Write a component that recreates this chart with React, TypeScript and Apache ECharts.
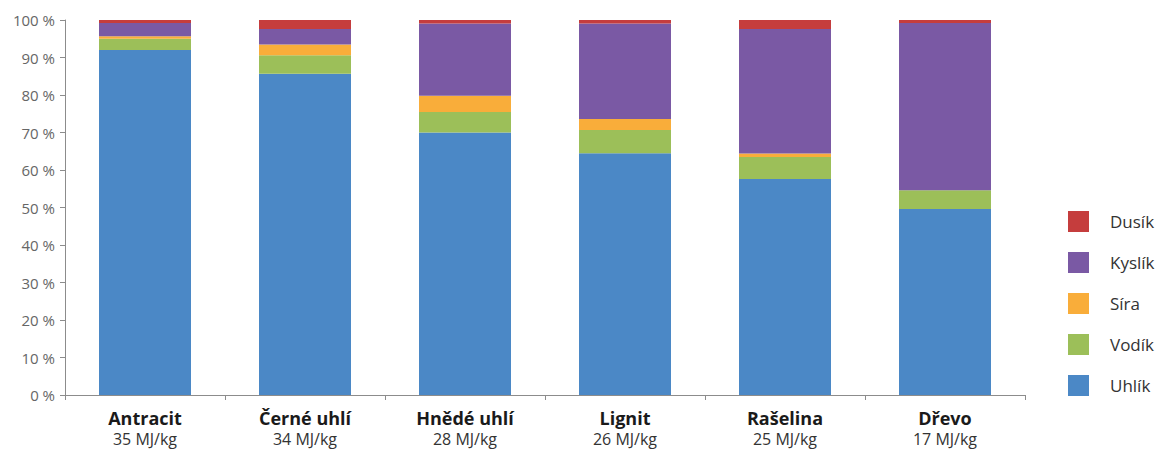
import React, { useEffect, useRef } from "react";
import * as echarts from "echarts";

const categories = ["Antracit", "Černé uhlí", "Hnědé uhlí", "Lignit", "Rašelina", "Dřevo"];
const energies = ["35 MJ/kg", "34 MJ/kg", "28 MJ/kg", "26 MJ/kg", "25 MJ/kg", "17 MJ/kg"];

const uhlik = [92, 85.7, 70, 64.5, 57.6, 49.6];
const vodik = [3, 4.9, 5.5, 6.2, 5.9, 5];
const sira = [0.7, 2.9, 4.3, 2.9, 0.9, 0];
const kyslik = [3.5, 4.1, 19.3, 25.5, 33.2, 44.6];
const dusik = [0.8, 2.4, 0.9, 0.9, 2.4, 0.8];

const yTicks = [0, 10, 20, 30, 40, 50, 60, 70, 80, 90, 100];

const seriesDefs = [
  { name: "Uhlík", data: uhlik, color: "#4B88C6" },
  { name: "Vodík", data: vodik, color: "#9CBF59" },
  { name: "Síra", data: sira, color: "#F9AD3A" },
  { name: "Kyslík", data: kyslik, color: "#7A59A4" },
  { name: "Dusík", data: dusik, color: "#C53D3D" },
];

const FONT = "'Open Sans', 'Noto Sans', sans-serif";

export default function App() {
  const ref = useRef<HTMLDivElement>(null);
  useEffect(() => {
    document.body.style.margin = "0";
    if (!ref.current) return;
    const chart = echarts.init(ref.current, undefined, { renderer: "svg" });
    chart.setOption({
      animation: false,
      backgroundColor: "#ffffff",
      grid: { left: 65, right: 141, top: 20, bottom: 54, containLabel: false },
      legend: {
        orient: "vertical",
        left: 1068,
        top: 211,
        padding: 0,
        itemWidth: 21,
        itemHeight: 21,
        itemGap: 20,
        icon: "rect",
        data: ["Dusík", "Kyslík", "Síra", "Vodík", "Uhlík"],
        textStyle: {
          fontFamily: FONT,
          fontSize: 17,
          color: "#333333",
          padding: [0, 0, 0, 16],
        },
        selectedMode: false,
      },
      xAxis: {
        type: "category",
        data: categories,
        axisLine: { lineStyle: { color: "#8c8c8c", width: 1 } },
        axisTick: { show: true, length: 5, lineStyle: { color: "#8c8c8c" } },
        axisLabel: {
          margin: 12,
          interval: 0,
          formatter: (v: string, i: number) => `{b|${v}}\n{s|${energies[i]}}`,
          rich: {
            b: { fontFamily: FONT, fontWeight: "bold", fontSize: 18, color: "#1a1a1a", lineHeight: 22 },
            s: { fontFamily: FONT, fontSize: 16, color: "#333333", lineHeight: 20 },
          },
        },
      },
      yAxis: {
        type: "value",
        min: yTicks[0],
        max: yTicks[yTicks.length - 1],
        interval: 10,
        splitLine: { show: false },
        axisLine: { show: true, lineStyle: { color: "#8c8c8c", width: 1 } },
        axisTick: { show: true, length: 5, lineStyle: { color: "#8c8c8c" } },
        axisLabel: {
          margin: 10,
          fontFamily: FONT,
          fontSize: 15,
          color: "#666666",
          formatter: (v: number) => `${v} %`,
        },
      },
      series: seriesDefs.map((s) => ({
        name: s.name,
        type: "bar",
        stack: "total",
        barWidth: "57.5%",
        data: s.data,
        itemStyle: { color: s.color },
        emphasis: { disabled: true },
      })),
    });
    return () => chart.dispose();
  }, []);
  return <div ref={ref} style={{ width: 1166, height: 449 }} />;
}
